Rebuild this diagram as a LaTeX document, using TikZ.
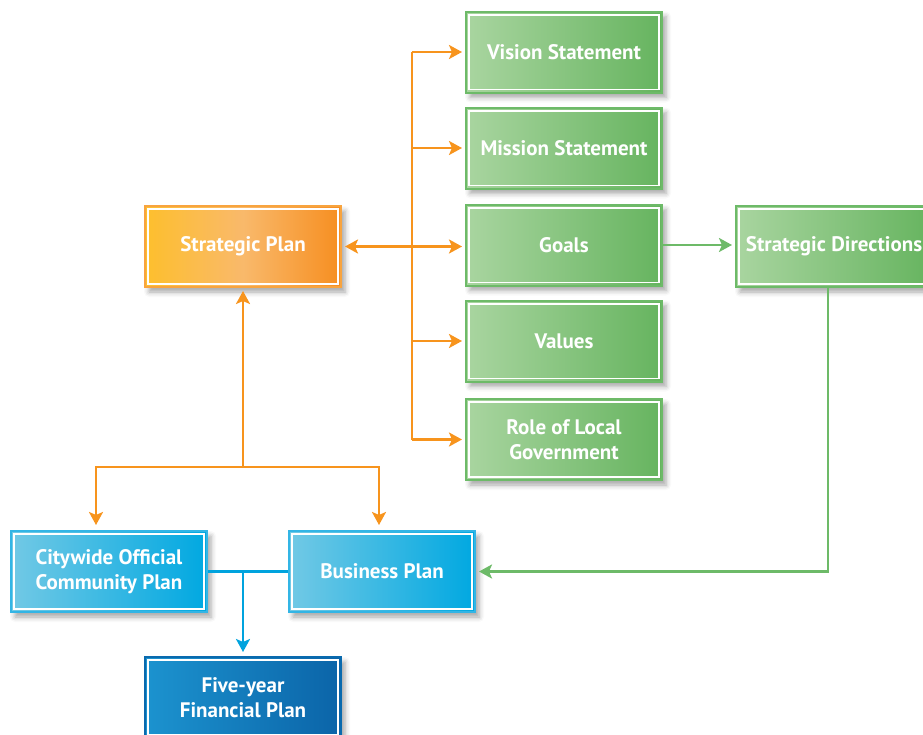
\documentclass[tikz,border=0pt]{standalone}
\usepackage{fontspec}
\setmainfont{PT Sans}
\usetikzlibrary{arrows.meta,shadows.blur,calc}

\definecolor{orA}{HTML}{FDBF2D}
\definecolor{orB}{HTML}{F9B96B}
\definecolor{orC}{HTML}{F68E20}
\definecolor{orLine}{HTML}{F7941D}
\definecolor{grA}{HTML}{A9D5A0}
\definecolor{grB}{HTML}{66B45F}
\definecolor{grLine}{HTML}{6DBA68}
\definecolor{blA}{HTML}{72C9E5}
\definecolor{blB}{HTML}{00A8E1}
\definecolor{blLine}{HTML}{00A3DE}
\definecolor{nvA}{HTML}{1C93CF}
\definecolor{nvB}{HTML}{0B64A8}
\definecolor{nvLine}{HTML}{0A6AAE}

% horizontal fills for the boxes
\pgfdeclarehorizontalshading{orangefill}{100bp}{color(0bp)=(orA); color(25bp)=(orA); color(50bp)=(orB); color(75bp)=(orC); color(100bp)=(orC)}
\pgfdeclarehorizontalshading{greenfill}{100bp}{color(0bp)=(grA); color(25bp)=(grA); color(75bp)=(grB); color(100bp)=(grB)}
\pgfdeclarehorizontalshading{bluefill}{100bp}{color(0bp)=(blA); color(25bp)=(blA); color(75bp)=(blB); color(100bp)=(blB)}
\pgfdeclarehorizontalshading{navyfill}{100bp}{color(0bp)=(nvA); color(25bp)=(nvA); color(75bp)=(nvB); color(100bp)=(nvB)}

\tikzset{
  plan/.style={
    minimum width=196pt, minimum height=81pt, inner sep=0pt,
    align=center, text=white, font=\fontsize{21}{25}\selectfont\bfseries,
    line width=2pt,
    blur shadow={shadow xshift=4pt, shadow yshift=-5pt, shadow blur radius=5pt, shadow opacity=35},
    path picture={\draw[white, line width=1.6pt]
      ([shift={(3.2pt,-3.2pt)}]path picture bounding box.north west) rectangle
      ([shift={(-3.2pt,3.2pt)}]path picture bounding box.south east);}
  },
  orangebox/.style={plan, shading=orangefill, draw=orLine!85},
  greenbox/.style={plan, shading=greenfill, draw=grLine},
  bluebox/.style={plan, shading=bluefill, draw=blLine!80},
  navybox/.style={plan, shading=navyfill, draw=nvLine},
  tip/.style={-{Stealth[length=13pt, width=14pt, inset=3pt]}},
  olink/.style={draw=orLine, line width=2.5pt},
  glink/.style={draw=grLine, line width=2.5pt},
  blink/.style={draw=blLine, line width=2.8pt},
}

\begin{document}
\begin{tikzpicture}[x=1pt, y=-1pt]
  \useasboundingbox (0,0) rectangle (923,734);

  % boxes
  \node[orangebox] (sp)   at (243,246.5) {Strategic Plan};
  \node[greenbox]  (vis)  at (564,52)    {Vision Statement};
  \node[greenbox]  (mis)  at (564,148)   {Mission Statement};
  \node[greenbox]  (goal) at (564,245)   {Goals};
  \node[greenbox]  (val)  at (564,341)   {Values};
  \node[greenbox]  (role) at (564,439.5) {Role of Local\\Government};
  \node[greenbox]  (sd)   at (834,246.5) {Strategic Directions};
  \node[bluebox]   (city) at (109,571.5) {Citywide Official\\Community Plan};
  \node[bluebox, minimum width=186pt] (bus) at (382,571.5) {Business Plan};
  \node[navybox]   (five) at (243,697.5) {Five-year\\Financial Plan};

  % orange trunk feeding the strategic elements
  \coordinate (trunk) at (412,246);
  \draw[olink] (trunk |- vis.west) -- (trunk |- role.west);
  \foreach \b in {vis,mis,val,role}
    \draw[olink, tip, shorten >=3pt] (trunk |- \b.west) -- (\b.west);
  \draw[olink, {Stealth[length=13pt, width=14pt, inset=3pt]}-{Stealth[length=13pt, width=14pt, inset=3pt]},
        shorten <=3pt, shorten >=3pt] (sp.east) -- (sp.east -| goal.west);

  % strategic plan down to the two plans
  \coordinate (split) at (243,467);
  \draw[olink, {Stealth[length=13pt, width=14pt, inset=3pt]}-, shorten <=3pt] (sp.south) -- (split);
  \draw[olink, tip, shorten >=5pt] (split) -| ([xshift=-13pt]city.north);
  \draw[olink, tip, shorten >=5pt] (split) -| ([xshift=-3pt]bus.north);

  % goals to strategic directions and back to the business plan
  \draw[glink, tip, shorten >=3pt] (goal.east) -- (goal.east -| sd.west);
  \draw[glink, tip, shorten >=3pt] ([xshift=-6pt]sd.south) |- (bus.east);

  % blue link to the financial plan
  \coordinate (join) at (five.north |- city.east);
  \draw[blink] (city.east) -- (bus.west);
  \draw[blink, tip, shorten >=4pt] (join) -- (five.north);
\end{tikzpicture}
\end{document}
